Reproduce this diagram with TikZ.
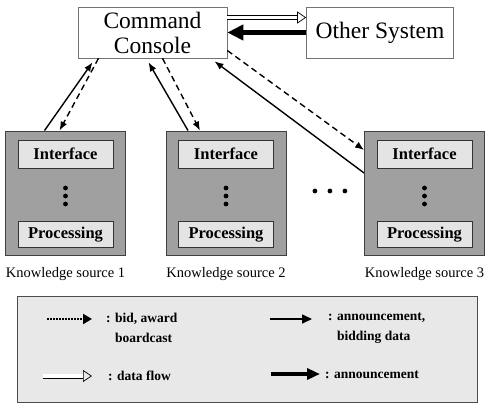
\documentclass[tikz,border=0pt]{standalone}
\usepackage{fontspec}
\setmainfont{Liberation Serif}
\usetikzlibrary{arrows.meta,positioning}
\definecolor{ksgray}{RGB}{160,160,160}
\definecolor{partgray}{RGB}{228,228,228}
\definecolor{leggray}{RGB}{232,232,232}

\begin{document}
\begin{tikzpicture}[x=1pt,y=-1pt,
  console/.style={draw=black!55, line width=0.6pt, fill=white, align=center, inner sep=2pt,
    font=\fontsize{23.5}{25}\selectfont},
  ksbox/.style={draw=black!75, line width=0.9pt, fill=ksgray, minimum width=120pt, minimum height=124pt},
  part/.style={draw=black!80, line width=1pt, fill=partgray, minimum width=95pt,
    font=\fontsize{16.5}{18}\selectfont\bfseries},
  kslabel/.style={inner sep=0pt, font=\fontsize{14.5}{16}\selectfont},
  legtext/.style={inner sep=0pt, align=left, font=\fontsize{13.5}{20}\selectfont\bfseries},
  annc/.style={line width=1.4pt, -{Latex[length=9pt,width=7pt]}},
  bidc/.style={line width=1.4pt, dash pattern=on 6pt off 4pt, -{Latex[length=9pt,width=7pt]}},
  flow/.style={double, double distance=3.6pt, line width=0.7pt, -{Triangle[open,length=9pt,width=12pt]}},
  annthick/.style={line width=5pt, -{Triangle[length=16pt,width=15pt]}}]
\useasboundingbox (0,0) rectangle (486,405);

% Top boxes
\node[console, minimum width=149pt, minimum height=51pt] (cc) at (152.5,32.5) {Command\\Console};
\node[console, minimum width=147pt, minimum height=51pt] (os) at (380,32.5) {Other System};

\draw[flow] ([yshift=15pt]cc.east) -- ([yshift=15pt]os.west);
\draw[annthick] (os.west) -- (cc.east);

% Knowledge sources
\node[ksbox] (ks1) at (65.5,193) {};
\node[ksbox] (ks2) at (226,193) {};
\node[ksbox] (ks3) at (424.5,193) {};

\foreach \k in {1,2,3} {
  \node[part, minimum height=28pt, anchor=north] (if\k) at ([yshift=-9pt]ks\k.north) {Interface};
  \node[part, minimum height=26pt, anchor=south] (pr\k) at ([yshift=7pt]ks\k.south) {Processing};
  \foreach \d in {-5,3,11}
    \fill ([yshift=-\d pt]ks\k.center) circle (2.4pt);
  \node[kslabel, below=12pt of ks\k] (lb\k) {Knowledge source \k};
}

% Dots between sources
\path (ks2.east) -- (ks3.west) coordinate[pos=0.56] (gap);
\foreach \d in {-15,0,15}
  \fill ([xshift=\d pt, yshift=2pt]gap) circle (2.4pt);

% Arrows to and from console
\draw[annc] ([xshift=-21pt]ks1.north) -- ([xshift=-60pt,yshift=-4pt]cc.south);
\draw[bidc] ([xshift=-54pt]cc.south) -- ([xshift=-6pt]ks1.north);
\draw[annc] ([xshift=-38pt]ks2.north) -- ([xshift=-4pt,yshift=-4pt]cc.south);
\draw[bidc] ([xshift=10pt]cc.south) -- ([xshift=-26pt]ks2.north);
\draw[annc] ([yshift=20pt]ks3.west) -- ([xshift=62pt,yshift=-3pt]cc.south);
\draw[bidc] ([yshift=-18pt]cc.east) -- ([yshift=43pt]ks3.west);

% Legend
\node[draw=black!70, line width=0.7pt, fill=leggray, minimum width=460pt, minimum height=106pt] (lg) at (247,349) {};

\node[legtext, anchor=west] (t1) at (106,328) {: bid, award\\\hphantom{: }boardcast};
\node[legtext, anchor=west] (t2) at (108,376) {: data flow};
\node[legtext, anchor=west] (t3) at (328,328) {: announcement,\\\hphantom{: }bidding data};
\node[legtext, anchor=west] (t4) at (325,375) {: announcement};

\coordinate (k1s) at (47,319);  \coordinate (k1e) at (92,319);
\coordinate (k2s) at (43,376);  \coordinate (k2e) at (92,376);
\coordinate (k3s) at (270,319); \coordinate (k3e) at (312,319);
\coordinate (k4s) at (271,374); \coordinate (k4e) at (320,374);

\draw[line width=2pt, densely dotted, -{Triangle[length=9pt,width=10pt]}] (k1s) -- (k1e);
\draw[flow] (k2s) -- (k2e);
\draw[line width=1.6pt, -{Triangle[length=10pt,width=9pt]}] (k3s) -- (k3e);
\draw[line width=4.5pt, -{Triangle[length=13pt,width=11pt]}] (k4s) -- (k4e);
\end{tikzpicture}
\end{document}
